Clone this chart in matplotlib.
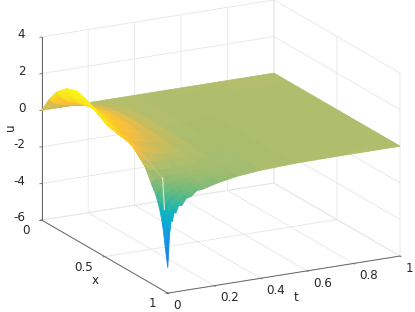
import numpy as np
import matplotlib
matplotlib.use("Agg")
import matplotlib.pyplot as plt
from matplotlib.colors import LinearSegmentedColormap, Normalize
from matplotlib.transforms import ScaledTranslation
from mpl_toolkits.mplot3d import proj3d

x_grid = [0, .06, .12, .2, .28, .36, .44, .52, .6, .7, .76, .82, .87, .91, .94, .96, .98, .99, 1]
t_grid = [0, .004, .0075, .01, .015, .02, .027, .035, .047, .06, .08, .1, .125, .15, .22, .3, .4, .55, .75, 1]
u_t000 = [0, .85, 1.48, 1.98, 2.16, 1.97, 1.58, 1.24, 1.11, 1.05, .65, .2, -.55, -1.1, -1.8, -2.5, -3.6, -4.1, -4.6]
u_t004 = [0, .8, 1.4, 1.9, 2.1, 1.9, 1.55, 1.22, 1.08, .95, .55, .1, -.5, -.9, -1.4, -1.9, -2.7, -3.2, -3.7]
u_t007 = [0, .75, 1.35, 1.82, 2.02, 1.85, 1.52, 1.2, 1.06, .92, .5, .05, -.47, -.85, -1.25, -1.7, -2.2, -2.5, -2.72]
u_t010 = [0, .7, 1.3, 1.75, 1.95, 1.8, 1.5, 1.18, 1.03, .88, .45, .02, -.45, -.8, -1.15, -1.55, -2.05, -2.35, -2.6]
u_t015 = [0, .65, 1.22, 1.65, 1.82, 1.7, 1.42, 1.13, .97, .8, .38, -.02, -.42, -.72, -1.02, -1.35, -1.75, -1.93, -2.03]
u_t020 = [0, .6, 1.15, 1.55, 1.7, 1.6, 1.35, 1.08, .92, .72, .32, -.05, -.4, -.68, -.97, -1.27, -1.7, -1.95, -2.12]
u_t027 = [0, .55, 1.05, 1.42, 1.57, 1.48, 1.26, 1.02, .85, .62, .26, -.08, -.38, -.62, -.88, -1.12, -1.45, -1.58, -1.66]
u_t035 = [0, .5, .98, 1.3, 1.45, 1.38, 1.18, .96, .78, .54, .2, -.1, -.36, -.58, -.82, -1.02, -1.38, -1.56, -1.7]
u_t047 = [0, .46, .88, 1.16, 1.3, 1.25, 1.08, .88, .7, .46, .15, -.12, -.33, -.52, -.72, -.9, -1.15, -1.25, -1.32]
u_t060 = [0, .42, .8, 1.05, 1.18, 1.12, .98, .8, .62, .38, .12, -.13, -.3, -.47, -.66, -.82, -1.08, -1.22, -1.34]
u_t080 = [0, .37, .7, .92, 1.02, .98, .86, .7, .54, .3, .08, -.14, -.28, -.42, -.56, -.7, -.86, -.93, -.98]
u_t100 = [0, .32, .6, .8, .9, .86, .76, .62, .46, .24, .05, -.14, -.26, -.38, -.5, -.62, -.78, -.87, -.93]
u_t125 = [0, .27, .5, .68, .76, .73, .64, .52, .38, .18, .02, -.14, -.24, -.33, -.42, -.5, -.59, -.63, -.66]
u_t150 = [0, .22, .42, .56, .63, .62, .54, .43, .3, .13, 0, -.14, -.22, -.3, -.38, -.45, -.55, -.6, -.63]
u_t220 = [0, .1, .18, .25, .28, .28, .25, .2, .14, .05, 0, -.06, -.14, -.2, -.26, -.31, -.37, -.39, -.4]
u_t300 = [0, .02, .04, .06, .07, .06, .04, 0, -.04, -.1, -.14, -.17, -.2, -.21, -.22, -.22, -.22, -.22, -.22]
u_t400 = [0, -.01, -.02, -.03, -.05, -.07, -.09, -.11, -.13, -.14, -.14, -.14, -.13, -.13, -.12, -.12, -.11, -.1, -.1]
u_t550 = [0, -.01, -.02, -.03, -.04, -.05, -.05, -.06, -.06, -.06, -.06, -.05, -.05, -.04, -.04, -.03, -.03, -.02, -.02]
u_t750 = [0, 0, -.01, -.01, -.01, -.01, -.01, -.01, -.01, -.01, -.01, -.01, -.01, -.01, -.01, -.01, 0, 0, 0]
u_t999 = [0] * 19
u_rows = [u_t000, u_t004, u_t007, u_t010, u_t015, u_t020, u_t027, u_t035, u_t047, u_t060,
          u_t080, u_t100, u_t125, u_t150, u_t220, u_t300, u_t400, u_t550, u_t750, u_t999]

ridge_t = [0, 0, 0]
ridge_x = [.72, .84, .955]
ridge_u = [1.07, .6, .12]
crease_t = [.002, .002]
crease_x = [.955, .97]
crease_u = [.12, -1.55]

t_ticks = [0, .2, .4, .6, .8, 1]
t_labels = ['0', '0.2', '0.4', '0.6', '0.8', '1']
x_ticks = [0, .5, 1]
x_labels = ['0', '0.5', '1']
u_ticks = [-6, -4, -2, 0, 2, 4]
u_labels = ['-6', '-4', '-2', '0', '2', '4']

u_min, u_max = -4.6, 2.2
stops = [(-4.6, '#2a74e8'), (-3.4, '#1a8ae8'), (-2.4, '#0ba8dc'), (-1.7, '#10b4bc'),
         (-0.9, '#5cba84'), (-0.25, '#9cbc70'), (0.0, '#b0be6c'), (0.3, '#d2bc58'),
         (0.6, '#f5bd40'), (0.9, '#fdc62c'), (1.2, '#f9e01c'), (2.2, '#f9f915')]
cmap = LinearSegmentedColormap.from_list(
    'surf', [((u - u_min) / (u_max - u_min), c) for u, c in stops])
norm = Normalize(u_min, u_max)

plt.rcParams['font.family'] = 'DejaVu Sans'
fig = plt.figure(figsize=(4.15, 3.12), dpi=100)
ax = fig.add_axes([0, 0, 1, 1], projection='3d', proj_type='ortho', computed_zorder=False)
ax.view_init(elev=17.7, azim=-117.7)
ax.set_box_aspect((262, 271, 192))

T, X = np.meshgrid(t_grid, x_grid, indexing='ij')
U = np.array(u_rows)
fc = cmap(norm(0.25 * (U[:-1, :-1] + U[1:, :-1] + U[:-1, 1:] + U[1:, 1:])))
ax.plot_surface(T, X, U, facecolors=fc, rstride=1, cstride=1, shade=False,
                linewidth=0.6, antialiased=True, zorder=1)
ax.plot(ridge_t, ridge_x, ridge_u, color='#f6cf88', lw=0.7, alpha=0.35, zorder=2)
ax.plot(crease_t, crease_x, crease_u, color='#f3edc8', lw=0.9, alpha=0.85, zorder=2)

ax.set_xlim(0, 1)
ax.set_ylim(1, 0)
ax.set_zlim(-6, 4)
ax.set_xticks(t_ticks, t_labels, ha='left')
ax.set_yticks(x_ticks, x_labels, ha='right')
ax.set_zticks(u_ticks, u_labels, ha='right')
ax.set_xlabel('t', labelpad=-1, color='#262626', fontsize=8.6)
ax.set_ylabel('x', labelpad=-1, color='#262626', fontsize=8.6)
ax.zaxis.set_rotate_label(False)
ax.set_zlabel('u', labelpad=0, color='#262626', fontsize=8.6, rotation=90)
for axis in (ax.xaxis, ax.yaxis, ax.zaxis):
    axis.set_pane_color((1, 1, 1, 0))
    axis.pane.set_edgecolor('#e2e2e2')
    axis.pane.set_linewidth(0.6)
    axis.line.set_color('#666666')
    axis.line.set_linewidth(0.7)
    axis._axinfo['grid'].update(color='#e6e6e6', linewidth=0.6)
    axis._axinfo['tick'].update(inward_factor=0.1, outward_factor=0.0, linewidth={True: 0.6, False: 0.6})
ax.tick_params(axis='both', labelsize=8.6, labelcolor='#262626', color='#666666', pad=-1)
ax.tick_params(axis='z', pad=-1)

def nudge(text, dx_px, dy_px):
    off = ScaledTranslation(dx_px / 100, dy_px / 100, fig.dpi_scale_trans)
    text.get_transform = lambda: ax.transData + off

for axis, tick_off, label_off in ((ax.xaxis, (0, 6), (-4, 10)),
                                  (ax.yaxis, (-1, 6), (21, 5)),
                                  (ax.zaxis, (0, 7), (18, -4))):
    for tick in axis.get_major_ticks():
        nudge(tick.label1, *tick_off)
    nudge(axis.label, *label_off)

# place the box: top-left corner of the box and overall width as measured
M = ax.get_proj()
x0, y0, _ = proj3d.proj_transform(0, 0, 4, M)
x1, y1, _ = proj3d.proj_transform(1, 1, -6, M)
W, H = fig.get_size_inches() * fig.dpi
s = (400.0 - 41.7) / (x1 - x0)
vl = ax.viewLim
side = s * vl.width
left = 41.7 - (x0 - vl.x0) * s
bottom = (H - 37.0) - (y0 - vl.y0) * s
ax.set_position([left / W, bottom / H, side / W, side / H])

fig.savefig('out.png', dpi=100)
